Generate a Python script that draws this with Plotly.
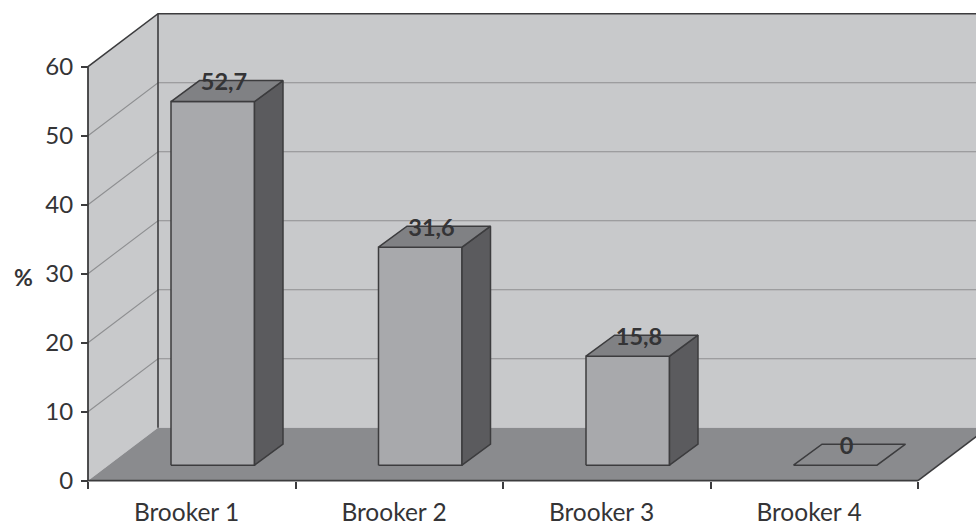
import plotly.graph_objects as go

categories = ["Brooker 1", "Brooker 2", "Brooker 3", "Brooker 4"]
values = [52.7, 31.6, 15.8, 0]
value_labels = ["52,7", "31,6", "15,8", "0"]
y_ticks = [0, 10, 20, 30, 40, 50, 60]
axis_title = "%"

# scale of the axes and geometry of the fake 3D box
W, H = 976, 522
PX_X, PX_Y = 207.5, 6.9
ORIGIN_X, ORIGIN_PX_Y = 88, 480.7
WALL_DX, WALL_DY = 70 / PX_X, 53 / PX_Y
BASE_DY = 15.5 / PX_Y
BAR_LEFT, BAR_W = 83 / PX_X, 83.5 / PX_X
BAR_DX, BAR_DY = 28.5 / PX_X, 21 / PX_Y
N = len(categories)
TOP = y_ticks[-1]

WALL, FLOOR, FRONT, LID, SIDE = "#c8c9cb", "#8a8b8e", "#a8a9ac", "#808184", "#5b5b5e"
EDGE, GRID, TEXT = "#3c3c3e", "#8e8f91", "#343436"

fig = go.Figure()


def poly(xs, ys, fill=None, line=EDGE, width=1.5):
    fig.add_trace(go.Scatter(
        x=xs, y=ys, mode="lines",
        fill="toself" if fill else None, fillcolor=fill,
        line=dict(color=line if line else "rgba(0,0,0,0)", width=width),
        hoverinfo="skip", showlegend=False))


# walls and floor
poly([WALL_DX, N + WALL_DX, N + WALL_DX, WALL_DX],
     [WALL_DY, WALL_DY, TOP + WALL_DY, TOP + WALL_DY], fill=WALL, line=None)
poly([0, WALL_DX, WALL_DX, 0], [0, WALL_DY, TOP + WALL_DY, TOP], fill=WALL, line=None)
poly([0, N, N + WALL_DX, WALL_DX], [0, 0, WALL_DY, WALL_DY], fill=FLOOR, line=None)

# gridlines
for t in y_ticks[1:-1]:
    poly([0, WALL_DX, N + WALL_DX], [t, t + WALL_DY, t + WALL_DY], line=GRID, width=1.1)

# box edges and axis lines
poly([0, WALL_DX, N + WALL_DX], [TOP, TOP + WALL_DY, TOP + WALL_DY], width=1.6)
poly([WALL_DX, WALL_DX], [WALL_DY, TOP + WALL_DY], width=1.6)
poly([N, N + WALL_DX], [0, WALL_DY], width=1.6)
poly([0, N], [0, 0], width=1.8)
poly([0, 0], [0, TOP], width=1.8)

# bars
for i, v in enumerate(values):
    x0 = i + BAR_LEFT
    x1 = x0 + BAR_W
    y0 = BASE_DY
    y1 = v + BASE_DY
    if v > 0:
        poly([x0, x1, x1, x0, x0], [y0, y0, y1, y1, y0], fill=FRONT)
        poly([x1, x1 + BAR_DX, x1 + BAR_DX, x1, x1],
             [y0, y0 + BAR_DY, y1 + BAR_DY, y1, y0], fill=SIDE)
    poly([x0, x1, x1 + BAR_DX, x0 + BAR_DX, x0],
         [y1, y1, y1 + BAR_DY, y1 + BAR_DY, y1], fill=LID if v > 0 else FLOOR)

# data labels
fig.add_trace(go.Scatter(
    x=[i + BAR_LEFT + (BAR_W + BAR_DX) / 2 - 3 / PX_X for i in range(N)],
    y=[v + BASE_DY + BAR_DY / 2 + 1.0 for v in values],
    mode="text", text=value_labels, textposition="middle center",
    textfont=dict(family="Lato", size=23.5, color=TEXT, weight="bold"),
    hoverinfo="skip", showlegend=False))

fig.update_layout(
    width=W, height=H,
    margin=dict(l=0, r=0, t=0, b=0, pad=0),
    paper_bgcolor="white", plot_bgcolor="white",
    font=dict(family="Lato", color=TEXT),
    xaxis=dict(
        domain=[0, 1], anchor="free", position=(H - ORIGIN_PX_Y) / H, automargin=False,
        range=[-ORIGIN_X / PX_X, (W - ORIGIN_X) / PX_X],
        showgrid=False, zeroline=False, showline=False,
        tickmode="array", tickvals=[i + 0.475 for i in range(N)], ticktext=categories,
        ticks="", tickfont=dict(size=24.5, color=TEXT), ticklabelstandoff=15,
        minor=dict(tickmode="array", tickvals=list(range(N + 1)), ticks="outside",
                   ticklen=7, tickwidth=1.5, tickcolor=EDGE, showgrid=False),
    ),
    yaxis=dict(
        domain=[0, 1], anchor="free", position=ORIGIN_X / W, automargin=False,
        range=[-(H - ORIGIN_PX_Y) / PX_Y, ORIGIN_PX_Y / PX_Y],
        showgrid=False, zeroline=False, showline=False,
        tickmode="array", tickvals=y_ticks, ticks="outside", ticklen=7,
        tickwidth=1.5, tickcolor=EDGE, tickfont=dict(size=24, color=TEXT),
        ticklabelstandoff=3,
    ),
    annotations=[dict(text=f"<b>{axis_title}</b>", xref="paper", yref="paper",
                      x=23 / W, y=(H - 277) / H, xanchor="center", yanchor="middle",
                      showarrow=False, font=dict(size=23, color=TEXT, family="Lato"))],
)

fig.write_html("out.html", config=dict(displayModeBar=False),
               post_script="document.body.style.margin='0';document.body.style.overflow='hidden';")
